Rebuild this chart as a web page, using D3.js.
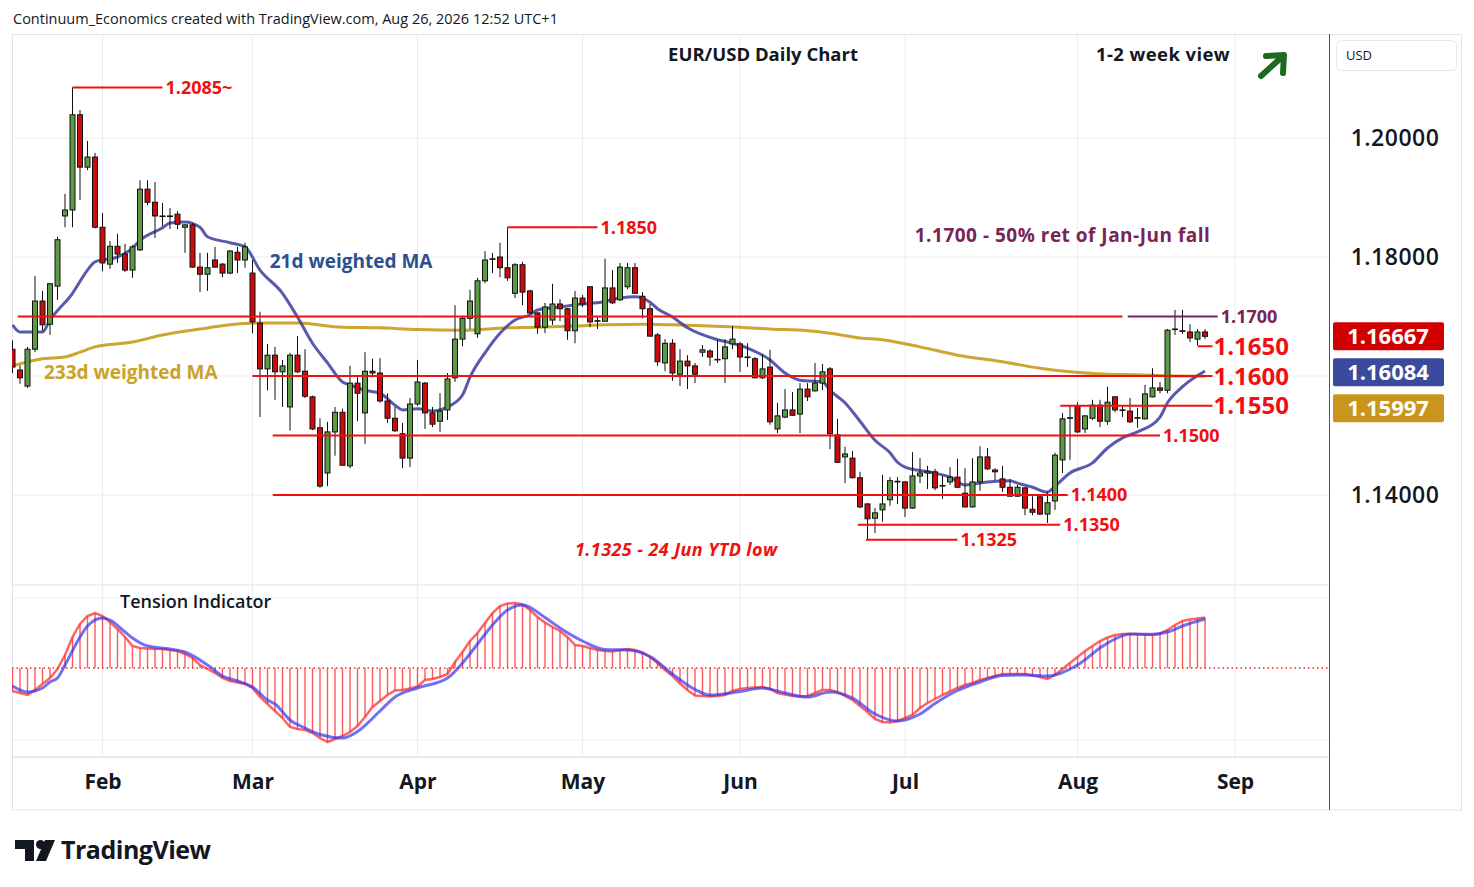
<!DOCTYPE html>
<html>
<head>
<meta charset="utf-8">
<script src="https://cdn.jsdelivr.net/npm/d3@7"></script>
<style>
  body { margin: 0; background: #fff; }
  svg text { font-family: "Open Sans", "DejaVu Sans", sans-serif; }
</style>
</head>
<body>
<div id="chart"></div>
<script>
// EUR/USD daily candles, 15 Jan 2026 .. 26 Aug 2026 (weekdays)
const open = [1.1645,1.1610,1.1583,1.1645,1.1726,1.1687,1.1751,1.1869,1.1879,1.2039,
  1.1951,1.1968,1.1850,1.1788,1.1818,1.1805,1.1778,1.1812,1.1914,1.1892,
  1.1869,1.1868,1.1872,1.1850,1.1854,1.1783,1.1771,1.1795,1.1788,1.1773,
  1.1808,1.1795,1.1773,1.1689,1.1612,1.1635,1.1607,1.1548,1.1635,1.1608,
  1.1565,1.1513,1.1437,1.1506,1.1539,1.1449,1.1588,1.1538,1.1608,1.1605,
  1.1558,1.1529,1.1503,1.1462,1.1553,1.1588,1.1538,1.1524,1.1543,1.1597,
  1.1662,1.1697,1.1671,1.1760,1.1796,1.1800,1.1782,1.1739,1.1787,1.1743,
  1.1706,1.1682,1.1694,1.1721,1.1713,1.1676,1.1731,1.1750,1.1692,1.1692,
  1.1748,1.1728,1.1750,1.1782,1.1734,1.1713,1.1669,1.1622,1.1655,1.1603,
  1.1625,1.1617,1.1640,1.1642,1.1627,1.1629,1.1654,1.1654,1.1632,1.1629,
  1.1597,1.1615,1.1511,1.1531,1.1543,1.1536,1.1578,1.1575,1.1588,1.1612,
  1.1501,1.1464,1.1462,1.1429,1.1385,1.1361,1.1375,1.1392,1.1422,1.1422,
  1.1378,1.1432,1.1437,1.1439,1.1415,1.1422,1.1430,1.1403,1.1380,1.1422,
  1.1464,1.1442,1.1427,1.1413,1.1398,1.1412,1.1376,1.1397,1.1368,1.1390,
  1.1459,1.1529,1.1550,1.1511,1.1529,1.1551,1.1524,1.1565,1.1543,1.1541,
  1.1530,1.1528,1.1565,1.1580,1.1576,1.1678,1.1676,1.1674,1.1662,1.1674];
const high = [1.1660,1.1618,1.1649,1.1768,1.1743,1.1756,1.1834,1.1906,1.2085,1.2047,
  1.1995,1.1975,1.1874,1.1827,1.1839,1.1822,1.1820,1.1929,1.1929,1.1926,
  1.1891,1.1882,1.1877,1.1855,1.1857,1.1807,1.1807,1.1817,1.1790,1.1812,
  1.1817,1.1824,1.1795,1.1708,1.1654,1.1649,1.1627,1.1639,1.1667,1.1645,
  1.1567,1.1529,1.1523,1.1548,1.1545,1.1617,1.1598,1.1640,1.1629,1.1630,
  1.1571,1.1548,1.1521,1.1563,1.1627,1.1590,1.1548,1.1571,1.1605,1.1719,
  1.1701,1.1745,1.1765,1.1810,1.1807,1.1824,1.1850,1.1790,1.1792,1.1745,
  1.1707,1.1723,1.1755,1.1729,1.1714,1.1743,1.1736,1.1751,1.1699,1.1797,
  1.1778,1.1790,1.1790,1.1790,1.1741,1.1721,1.1672,1.1662,1.1662,1.1645,
  1.1635,1.1622,1.1652,1.1645,1.1661,1.1662,1.1684,1.1657,1.1655,1.1632,
  1.1637,1.1644,1.1555,1.1578,1.1573,1.1588,1.1588,1.1622,1.1620,1.1615,
  1.1528,1.1481,1.1474,1.1439,1.1386,1.1378,1.1434,1.1430,1.1430,1.1423,
  1.1472,1.1462,1.1449,1.1444,1.1432,1.1447,1.1461,1.1445,1.1462,1.1482,
  1.1479,1.1445,1.1449,1.1427,1.1417,1.1413,1.1398,1.1400,1.1405,1.1471,
  1.1538,1.1551,1.1556,1.1534,1.1560,1.1560,1.1582,1.1566,1.1550,1.1563,
  1.1546,1.1585,1.1613,1.1590,1.1679,1.1711,1.1711,1.1687,1.1679,1.1679];
const low = [1.1605,1.1587,1.1580,1.1640,1.1676,1.1669,1.1728,1.1850,1.1850,1.1896,
  1.1946,1.1848,1.1776,1.1780,1.1790,1.1775,1.1765,1.1810,1.1887,1.1832,
  1.1852,1.1847,1.1847,1.1807,1.1782,1.1741,1.1743,1.1782,1.1766,1.1771,
  1.1773,1.1782,1.1672,1.1531,1.1576,1.1560,1.1548,1.1508,1.1605,1.1563,
  1.1509,1.1412,1.1415,1.1466,1.1450,1.1445,1.1524,1.1486,1.1598,1.1555,
  1.1521,1.1506,1.1445,1.1447,1.1550,1.1511,1.1514,1.1506,1.1526,1.1590,
  1.1650,1.1679,1.1664,1.1756,1.1773,1.1766,1.1760,1.1731,1.1719,1.1704,
  1.1671,1.1672,1.1686,1.1692,1.1661,1.1655,1.1716,1.1682,1.1679,1.1691,
  1.1721,1.1726,1.1746,1.1739,1.1697,1.1666,1.1617,1.1608,1.1592,1.1583,
  1.1578,1.1588,1.1632,1.1617,1.1622,1.1588,1.1645,1.1607,1.1615,1.1596,
  1.1595,1.1518,1.1504,1.1529,1.1533,1.1504,1.1558,1.1574,1.1576,1.1477,
  1.1454,1.1420,1.1428,1.1378,1.1325,1.1336,1.1355,1.1382,1.1385,1.1363,
  1.1377,1.1420,1.1410,1.1408,1.1393,1.1417,1.1412,1.1379,1.1379,1.1407,
  1.1442,1.1425,1.1405,1.1397,1.1397,1.1366,1.1366,1.1366,1.1353,1.1375,
  1.1437,1.1459,1.1504,1.1504,1.1526,1.1514,1.1518,1.1539,1.1531,1.1521,
  1.1513,1.1527,1.1564,1.1571,1.1571,1.1669,1.1671,1.1657,1.1652,1.1662];
const close = [1.1615,1.1597,1.1645,1.1726,1.1686,1.1755,1.1829,1.1879,1.2039,1.1951,
  1.1968,1.1850,1.1790,1.1818,1.1805,1.1778,1.1817,1.1914,1.1892,1.1869,
  1.1868,1.1869,1.1855,1.1854,1.1783,1.1771,1.1782,1.1783,1.1773,1.1810,
  1.1795,1.1817,1.1691,1.1612,1.1635,1.1607,1.1617,1.1635,1.1607,1.1566,
  1.1511,1.1415,1.1506,1.1539,1.1450,1.1588,1.1571,1.1608,1.1605,1.1558,
  1.1529,1.1508,1.1462,1.1553,1.1590,1.1538,1.1519,1.1541,1.1595,1.1662,
  1.1697,1.1726,1.1760,1.1795,1.1797,1.1782,1.1765,1.1787,1.1741,1.1706,
  1.1682,1.1716,1.1721,1.1713,1.1676,1.1731,1.1721,1.1691,1.1693,1.1748,
  1.1723,1.1783,1.1782,1.1739,1.1713,1.1667,1.1624,1.1655,1.1605,1.1625,
  1.1617,1.1603,1.1644,1.1632,1.1628,1.1649,1.1662,1.1632,1.1631,1.1597,
  1.1612,1.1523,1.1533,1.1543,1.1534,1.1578,1.1565,1.1588,1.1607,1.1503,
  1.1455,1.1469,1.1429,1.1380,1.1360,1.1370,1.1385,1.1424,1.1423,1.1378,
  1.1432,1.1437,1.1440,1.1412,1.1416,1.1430,1.1413,1.1380,1.1422,1.1464,
  1.1444,1.1439,1.1413,1.1398,1.1413,1.1378,1.1371,1.1368,1.1387,1.1467,
  1.1528,1.1530,1.1506,1.1533,1.1551,1.1524,1.1556,1.1543,1.1542,1.1523,
  1.1529,1.1570,1.1580,1.1576,1.1677,1.1679,1.1675,1.1664,1.1674,1.16667];

// moving averages (bar index -> value)
const ma21Idx = [0,1,4,5,8,10,11,14,16,17,20,21,23,25,26,29,31,33,36,38,40,42,44,45,47,49,51,52,54,56,
  58,60,61,63,65,67,69,70,73,76,78,81,83,85,86,88,90,94,96,98,101,103,105,108,109,111,113,115,117,118,
  119,122,125,127,130,133,134,136,138,139,141,144,146,148,150,153,154,156,159];
const ma21Val = [1.1686,1.1674,1.1674,1.1694,1.1739,1.1778,1.1792,1.1800,1.1815,1.1828,
  1.1849,1.1857,1.1859,1.1850,1.1834,1.1824,1.1817,1.1778,1.1739,1.1699,
  1.1655,1.1622,1.1590,1.1585,1.1576,1.1571,1.1551,1.1543,1.1545,1.1541,
  1.1548,1.1568,1.1598,1.1639,1.1672,1.1694,1.1703,1.1711,1.1716,1.1721,
  1.1723,1.1731,1.1733,1.1724,1.1713,1.1699,1.1681,1.1661,1.1655,1.1647,
  1.1627,1.1605,1.1593,1.1590,1.1576,1.1555,1.1524,1.1492,1.1471,1.1455,
  1.1447,1.1439,1.1430,1.1417,1.1422,1.1424,1.1420,1.1413,1.1405,1.1415,
  1.1437,1.1454,1.1479,1.1496,1.1506,1.1531,1.1555,1.1582,1.16084];
const ma233Idx = [0,4,7,9,11,16,20,25,29,33,38,44,49,54,60,66,70,75,79,84,88,93,97,101,106,109,113,116,121,126,132,137,141,146,150,155,159];
const ma233Val = [1.1617,1.1629,1.1632,1.1640,1.1649,1.1657,1.1669,1.1679,1.1686,1.1689,
  1.1689,1.1682,1.1681,1.1678,1.1677,1.1681,1.1682,1.1684,1.1686,1.1687,
  1.1686,1.1684,1.1682,1.1679,1.1676,1.1672,1.1664,1.1661,1.1649,1.1635,
  1.1624,1.1613,1.1607,1.1603,1.1602,1.1600,1.15997];

// tension indicator (one value per bar) and its signal line
const tension = [-0.23,-0.25,-0.27,-0.22,-0.16,-0.10,-0.01,0.13,0.31,0.44,
  0.52,0.55,0.52,0.46,0.39,0.31,0.22,0.20,0.195,0.19,
  0.19,0.18,0.17,0.14,0.10,0.03,-0.01,-0.05,-0.10,-0.13,
  -0.145,-0.16,-0.20,-0.29,-0.36,-0.43,-0.50,-0.59,-0.61,-0.62,
  -0.65,-0.70,-0.74,-0.71,-0.68,-0.64,-0.58,-0.49,-0.39,-0.33,
  -0.27,-0.225,-0.22,-0.205,-0.185,-0.12,-0.11,-0.09,-0.06,0.06,
  0.16,0.27,0.35,0.45,0.55,0.62,0.645,0.65,0.635,0.58,
  0.51,0.455,0.41,0.37,0.31,0.23,0.22,0.20,0.18,0.17,
  0.165,0.18,0.19,0.18,0.155,0.11,0.05,-0.02,-0.08,-0.155,
  -0.22,-0.275,-0.28,-0.285,-0.28,-0.27,-0.23,-0.21,-0.20,-0.195,
  -0.19,-0.21,-0.25,-0.265,-0.28,-0.285,-0.28,-0.25,-0.22,-0.22,
  -0.24,-0.28,-0.32,-0.38,-0.44,-0.51,-0.54,-0.545,-0.53,-0.50,
  -0.47,-0.40,-0.35,-0.31,-0.27,-0.235,-0.20,-0.17,-0.15,-0.12,
  -0.10,-0.08,-0.06,-0.06,-0.06,-0.06,-0.075,-0.09,-0.11,-0.07,
  -0.01,0.05,0.11,0.17,0.22,0.27,0.305,0.33,0.34,0.34,
  0.34,0.335,0.33,0.345,0.38,0.43,0.47,0.485,0.495,0.505];
const sigIdx = [0,2,4,5,6,7,9,10,12,13,15,16,18,21,23,26,28,30,32,34,35,37,39,41,44,46,49,51,54,58,
  60,62,64,66,68,71,73,76,79,82,85,88,91,93,97,100,103,106,109,112,115,118,121,123,126,129,132,135,138,142,
  145,147,149,152,154,156,159];
const sigVal = [-0.18,-0.24,-0.20,-0.14,-0.10,0.03,0.31,0.42,0.50,0.48,
  0.36,0.30,0.22,0.19,0.16,0.03,-0.08,-0.13,-0.19,-0.32,
  -0.36,-0.52,-0.60,-0.665,-0.70,-0.635,-0.43,-0.29,-0.20,-0.10,
  0.05,0.24,0.43,0.58,0.63,0.505,0.40,0.27,0.185,0.18,
  0.115,-0.06,-0.215,-0.27,-0.235,-0.20,-0.25,-0.29,-0.24,-0.30,
  -0.46,-0.53,-0.46,-0.355,-0.225,-0.14,-0.075,-0.07,-0.08,0.03,
  0.20,0.29,0.34,0.337,0.36,0.42,0.49];

// support / resistance lines (price, from bar, to bar, label)
const levelPrice = [1.2085, 1.1850, 1.1700, 1.1700, 1.1650, 1.1600, 1.1550, 1.1500, 1.1400, 1.1350, 1.1325];
const levelFrom  = [8, 66, 0.7, 148.7, 158, 32, 139.7, 34.7, 34.7, 112.7, 113.8];
const levelTo    = [20, 78, 148, 160.7, 160, 160, 160, 153, 140.7, 139.7, 126];
const levelText  = ["1.2085~", "1.1850", "", "1.1700", "1.1650", "1.1600", "1.1550", "1.1500", "1.1400", "1.1350", "1.1325"];

const priceTicks = [1.14, 1.16, 1.18, 1.20];

// trading calendar (weekdays), first bar = 15 Jan 2026
const calendar = d3.utcDay.range(new Date(Date.UTC(2026, 0, 15)), new Date(Date.UTC(2026, 9, 1)))
  .filter(d => d.getUTCDay() % 6 !== 0);

const W = 1474, H = 887;
const L = 12, R = 1329, TOP = 35, SPLIT = 585, TBOT = 757, BOT = 810;

const svg = d3.select("#chart").append("svg")
    .attr("width", W)
    .attr("height", H)

const x = d3.scaleLinear().domain([0, 175]).range([12.5, 1325]);
const y = d3.scaleLinear().domain([1.12, 1.22]).range([614, 19]);
const yt = d3.scaleLinear().domain([-1, 1]).range([768, 568]);

const defs = svg.append("defs");
defs.append("clipPath").attr("id", "cp").append("rect")
    .attr("x", L).attr("y", TOP).attr("width", R - L).attr("height", SPLIT - TOP);
defs.append("clipPath").attr("id", "ct").append("rect")
    .attr("x", L).attr("y", SPLIT).attr("width", R - L).attr("height", TBOT - SPLIT);

// header
svg.append("text").attr("x", 13).attr("y", 24)
    .attr("font-size", 14.5).attr("fill", "#131722")
    .text("Continuum_Economics created with TradingView.com, Aug 26, 2026 12:52 UTC+1");

// month ticks
const monthIdx = calendar.map((d, i) => i)
    .filter(i => i > 0 && calendar[i].getUTCMonth() !== calendar[i - 1].getUTCMonth() && x(i) < R);

// grid
const grid = svg.append("g").attr("stroke", "#e6edf4").attr("stroke-width", 1);
grid.selectAll("line.v").data(monthIdx).join("line")
    .attr("x1", d => x(d)).attr("x2", d => x(d))
    .attr("y1", TOP).attr("y2", TBOT);
grid.selectAll("line.h").data(priceTicks).join("line")
    .attr("x1", L).attr("x2", R)
    .attr("y1", d => y(d)).attr("y2", d => y(d));
grid.selectAll("line.t").data([0.7, -0.72]).join("line")
    .attr("x1", L).attr("x2", R)
    .attr("y1", d => yt(d)).attr("y2", d => yt(d));

// frame
svg.append("rect").attr("x", L + 0.5).attr("y", TOP - 0.5).attr("width", 1461 - L).attr("height", BOT - TOP + 0.5)
    .attr("fill", "none").attr("stroke", "#e0e3eb");
svg.append("line").attr("x1", L).attr("x2", R).attr("y1", SPLIT).attr("y2", SPLIT).attr("stroke", "#e0e3eb");
svg.append("line").attr("x1", L).attr("x2", R).attr("y1", TBOT).attr("y2", TBOT).attr("stroke", "#d0d3db");
svg.append("line").attr("x1", R + 0.5).attr("x2", R + 0.5).attr("y1", TOP - 1).attr("y2", BOT).attr("stroke", "#50535e");

// price pane
const pane = svg.append("g").attr("clip-path", "url(#cp)");

const line = d3.line().curve(d3.curveMonotoneX);
pane.append("path")
    .attr("d", line(ma233Idx.map((d, i) => [x(d), y(ma233Val[i])])))
    .attr("fill", "none").attr("stroke", "#c89b1a").attr("stroke-width", 3).attr("opacity", 0.9);
pane.append("path")
    .attr("d", line(ma21Idx.map((d, i) => [x(d), y(ma21Val[i])])))
    .attr("fill", "none").attr("stroke", "#3b3e9c").attr("stroke-width", 3).attr("opacity", 0.85);

const candles = d3.range(close.length).map(i => ({ i, o: open[i], h: high[i], l: low[i], c: close[i] }));
const cg = pane.append("g");
cg.selectAll("line").data(candles).join("line")
    .attr("x1", d => x(d.i)).attr("x2", d => x(d.i))
    .attr("y1", d => y(d.h)).attr("y2", d => y(d.l))
    .attr("stroke", "#111").attr("stroke-width", 1);
cg.selectAll("rect").data(candles).join("rect")
    .attr("x", d => x(d.i) - 2.5)
    .attr("width", 5)
    .attr("y", d => y(Math.max(d.o, d.c)))
    .attr("height", d => Math.max(0.6, Math.abs(y(d.o) - y(d.c))))
    .attr("fill", d => d.c >= d.o ? "#5c9a45" : "#cc0c0c")
    .attr("stroke", "#111").attr("stroke-width", 1);

// level lines
const lv = pane.append("g");
levelPrice.forEach((p, k) => {
  const purple = k === 3;
  lv.append("line")
      .attr("x1", x(levelFrom[k])).attr("x2", x(levelTo[k]))
      .attr("y1", y(p)).attr("y2", y(p))
      .attr("stroke", purple ? "#7a2356" : "#f01010").attr("stroke-width", 2);
});
levelPrice.forEach((p, k) => {
  if (!levelText[k]) return;
  const big = ["1.1650", "1.1600", "1.1550"].includes(levelText[k]);
  lv.append("text")
      .attr("x", x(levelTo[k]) + (big ? 1 : 3))
      .attr("y", y(p))
      .attr("dy", "0.36em")
      .attr("font-size", big ? 24 : 18)
      .attr("font-weight", 700)
      .attr("fill", k === 3 ? "#7a2356" : "#f01010")
      .text(levelText[k]);
});

// chart notes
svg.append("text").attr("x", 763).attr("y", 61).attr("text-anchor", "middle")
    .attr("font-size", 18.5).attr("font-weight", 700).attr("fill", "#131722").text("EUR/USD Daily Chart");
svg.append("text").attr("x", 1163).attr("y", 61).attr("text-anchor", "middle")
    .attr("font-size", 18.5).attr("font-weight", 700).attr("fill", "#131722")
    .attr("letter-spacing", 0.4).text("1-2 week view");
svg.append("path").attr("d", "M1261,76 L1283,56 M1266,56 L1284,55 L1283,73")
    .attr("fill", "none").attr("stroke", "#1e6a22").attr("stroke-width", 6)
    .attr("stroke-linecap", "round").attr("stroke-linejoin", "round");
svg.append("text").attr("x", x(120.3)).attr("y", y(1.1837)).attr("dy", "0.36em")
    .attr("font-size", 19).attr("font-weight", 700).attr("fill", "#7a2356")
    .attr("letter-spacing", 0.5).text("1.1700 - 50% ret of Jan-Jun fall");
svg.append("text").attr("x", x(34.3)).attr("y", y(1.1793)).attr("dy", "0.36em")
    .attr("font-size", 19).attr("font-weight", 700).attr("fill", "#2e4f8e").text("21d weighted MA");
svg.append("text").attr("x", x(4.2)).attr("y", y(1.1607)).attr("dy", "0.36em")
    .attr("font-size", 19).attr("font-weight", 700).attr("fill", "#c9a227").text("233d weighted MA");
svg.append("text").attr("x", x(75)).attr("y", y(1.1309)).attr("dy", "0.36em")
    .attr("font-size", 18).attr("font-weight", 700).attr("font-style", "italic").attr("fill", "#f01010")
    .attr("letter-spacing", 0.4).text("1.1325 - 24 Jun YTD low");

// tension pane
const tp = svg.append("g").attr("clip-path", "url(#ct)");
tp.append("line").attr("x1", L).attr("x2", R).attr("y1", yt(0)).attr("y2", yt(0))
    .attr("stroke", "#ff2020").attr("stroke-width", 1.5).attr("stroke-dasharray", "1.5,3");
tp.selectAll("line.bar").data(tension).join("line")
    .attr("x1", (d, i) => x(i)).attr("x2", (d, i) => x(i))
    .attr("y1", yt(0)).attr("y2", d => yt(d))
    .attr("stroke", "#ff3030").attr("stroke-width", 1.4).attr("opacity", 0.8);
tp.append("path")
    .attr("d", d3.line()(tension.map((d, i) => [x(i), yt(d)])))
    .attr("fill", "none").attr("stroke", "#ff3030").attr("stroke-width", 2.5).attr("opacity", 0.75);
tp.append("path")
    .attr("d", line(sigIdx.map((d, i) => [x(d), yt(sigVal[i])])))
    .attr("fill", "none").attr("stroke", "#3535f0").attr("stroke-width", 3).attr("opacity", 0.7);
svg.append("text").attr("x", 120).attr("y", 608)
    .attr("font-size", 18).attr("font-weight", 600).attr("fill", "#131722").text("Tension Indicator");

// time axis
const xAxis = d3.axisBottom(x).tickValues(monthIdx).tickSize(0)
    .tickFormat(i => d3.utcFormat("%b")(calendar[i]));
const xa = svg.append("g").attr("transform", `translate(0,${TBOT})`).call(xAxis);
xa.select(".domain").remove();
xa.selectAll("text").attr("y", 24).attr("dy", "0.36em")
    .attr("font-size", 21).attr("font-weight", 700).attr("fill", "#131722")
    .attr("font-family", "\"Open Sans\", sans-serif");

// last value boxes
const lastClose = close[close.length - 1];
const lastMa21 = ma21Val[ma21Val.length - 1];
const lastMa233 = ma233Val[ma233Val.length - 1];
const yRed = y(lastClose);
const yBlue = Math.max(y(lastMa21), yRed + 36);
const yGold = Math.max(y(lastMa233), yBlue + 36);
const boxes = [[yRed, lastClose, "#d00000"], [yBlue, lastMa21, "#3a4a9c"], [yGold, lastMa233, "#c8961c"]];

// price axis
const yAxis = d3.axisRight(y)
    .tickValues(priceTicks.filter(t => boxes.every(b => Math.abs(y(t) - b[0]) > 22)))
    .tickSize(0).tickFormat(d3.format(".5f"));
const ya = svg.append("g").attr("transform", `translate(${R},0)`).call(yAxis);
ya.select(".domain").remove();
ya.selectAll("text").attr("x", 66).attr("text-anchor", "middle")
    .attr("font-size", 23).attr("font-weight", 600).attr("fill", "#131722")
    .attr("letter-spacing", 0.5)
    .attr("font-family", "\"Open Sans\", sans-serif");

const bx = svg.append("g");
boxes.forEach(([by, v, col]) => {
  bx.append("rect").attr("x", R + 4).attr("y", by - 14).attr("width", 111).attr("height", 28)
      .attr("rx", 2).attr("fill", col);
  bx.append("text").attr("x", R + 59).attr("y", by).attr("dy", "0.36em").attr("text-anchor", "middle")
      .attr("font-size", 22).attr("font-weight", 700).attr("fill", "#fff").text(d3.format(".5f")(v));
});

// currency box
svg.append("rect").attr("x", 1336.5).attr("y", 40.5).attr("width", 120).attr("height", 30).attr("rx", 5)
    .attr("fill", "#fff").attr("stroke", "#e6e8ee");
svg.append("text").attr("x", 1346).attr("y", 60).attr("font-size", 13).attr("fill", "#131722").text("USD");

// TradingView logo
const logo = svg.append("g").attr("fill", "#131722");
logo.append("path").attr("d", "M15,840 H34 V861 H25 V849 H15 Z");
logo.append("circle").attr("cx", 40.5).attr("cy", 844.5).attr("r", 4.5);
logo.append("path").attr("d", "M45,840 H55 L46,861 H36 Z");
logo.append("text").attr("x", 61).attr("y", 859).attr("font-size", 25).attr("font-weight", 700)
    .attr("letter-spacing", -0.5).text("TradingView");
</script>
</body>
</html>
